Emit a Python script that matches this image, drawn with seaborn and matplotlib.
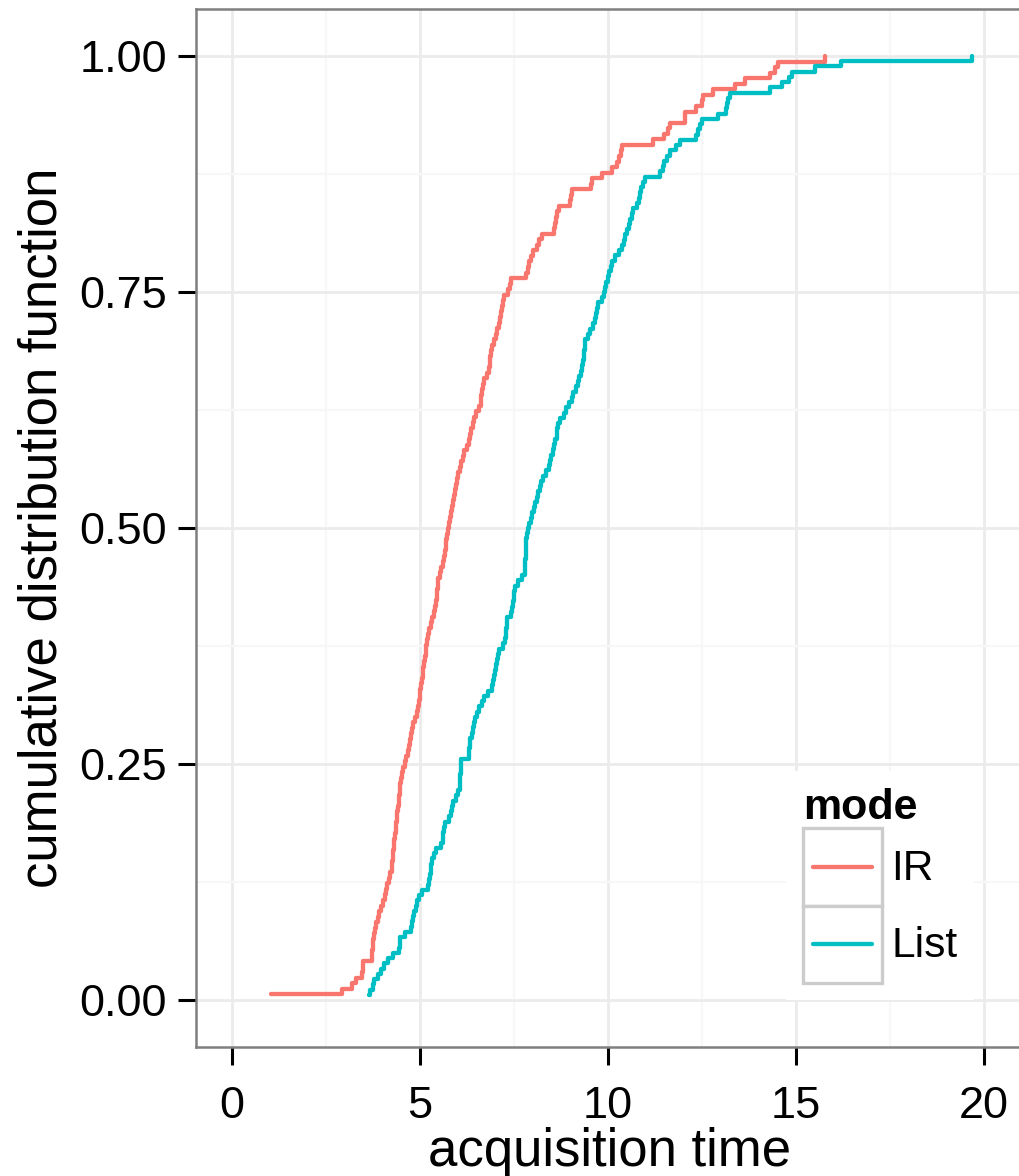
import numpy as np
import pandas as pd
import seaborn as sns
import matplotlib.pyplot as plt
from matplotlib.ticker import MultipleLocator
from matplotlib.legend_handler import HandlerBase
from matplotlib.patches import Rectangle
from matplotlib.lines import Line2D

# acquisition times
ir_times = [
    1.03, 2.93, 3.20, 3.30, 3.45, 3.49, 3.49, 3.72, 3.73, 3.74,
    3.75, 3.78, 3.81, 3.84, 3.87, 3.92, 3.97, 4.02, 4.07, 4.10,
    4.13, 4.17, 4.21, 4.25, 4.26, 4.28, 4.29, 4.31, 4.32, 4.34,
    4.35, 4.37, 4.38, 4.40, 4.41, 4.43, 4.44, 4.46, 4.47, 4.50,
    4.53, 4.55, 4.59, 4.63, 4.67, 4.71, 4.73, 4.76, 4.79, 4.82,
    4.86, 4.91, 4.95, 4.97, 4.99, 5.01, 5.03, 5.05, 5.07, 5.09,
    5.11, 5.12, 5.15, 5.17, 5.19, 5.21, 5.25, 5.28, 5.31, 5.36,
    5.40, 5.42, 5.44, 5.45, 5.47, 5.49, 5.53, 5.57, 5.61, 5.64,
    5.66, 5.68, 5.70, 5.72, 5.75, 5.77, 5.80, 5.83, 5.86, 5.89,
    5.91, 5.93, 5.96, 5.98, 6.01, 6.05, 6.09, 6.13, 6.17, 6.25,
    6.30, 6.33, 6.36, 6.40, 6.44, 6.50, 6.56, 6.61, 6.63, 6.65,
    6.67, 6.71, 6.79, 6.83, 6.85, 6.87, 6.89, 6.92, 6.97, 7.01,
    7.05, 7.09, 7.13, 7.15, 7.18, 7.20, 7.24, 7.35, 7.39, 7.43,
    7.83, 7.86, 7.90, 7.95, 8.00, 8.10, 8.16, 8.24, 8.57, 8.59,
    8.62, 8.65, 8.70, 8.99, 9.02, 9.03, 9.55, 9.57, 9.83, 10.10,
    10.23, 10.30, 10.34, 10.36, 11.20, 11.50, 11.60, 11.65, 12.05, 12.05,
    12.35, 12.50, 12.53, 12.80, 13.38, 13.64, 14.30, 14.45, 14.53, 15.77,
]
list_times = [
    3.63, 3.68, 3.74, 3.78, 3.87, 3.97, 4.05, 4.15, 4.29, 4.45,
    4.47, 4.48, 4.60, 4.75, 4.78, 4.81, 4.84, 4.88, 4.91, 4.98,
    5.05, 5.20, 5.24, 5.26, 5.28, 5.30, 5.33, 5.37, 5.43, 5.55,
    5.60, 5.62, 5.64, 5.66, 5.78, 5.82, 5.85, 5.88, 5.95, 6.02,
    6.05, 6.06, 6.07, 6.08, 6.09, 6.10, 6.29, 6.31, 6.32, 6.33,
    6.37, 6.41, 6.44, 6.47, 6.51, 6.56, 6.66, 6.71, 6.82, 6.92,
    6.95, 6.97, 6.99, 7.01, 7.04, 7.07, 7.10, 7.21, 7.27, 7.28,
    7.29, 7.30, 7.31, 7.42, 7.45, 7.47, 7.49, 7.51, 7.53, 7.60,
    7.70, 7.79, 7.80, 7.80, 7.81, 7.82, 7.82, 7.83, 7.85, 7.88,
    7.91, 7.94, 7.98, 8.03, 8.07, 8.11, 8.15, 8.19, 8.23, 8.28,
    8.35, 8.42, 8.46, 8.49, 8.53, 8.57, 8.60, 8.63, 8.65, 8.67,
    8.72, 8.82, 8.89, 8.96, 9.03, 9.08, 9.14, 9.19, 9.23, 9.27,
    9.31, 9.33, 9.35, 9.36, 9.38, 9.40, 9.46, 9.53, 9.60, 9.66,
    9.69, 9.71, 9.73, 9.85, 9.89, 9.92, 9.95, 9.99, 10.03, 10.07,
    10.11, 10.18, 10.28, 10.38, 10.42, 10.46, 10.50, 10.55, 10.59, 10.63,
    10.67, 10.76, 10.82, 10.85, 10.88, 10.92, 10.98, 11.38, 11.45, 11.48,
    11.56, 11.66, 11.80, 11.91, 12.34, 12.40, 12.45, 12.50, 12.91, 13.13,
    13.15, 13.20, 13.24, 14.31, 14.62, 14.80, 14.89, 15.50, 16.20, 19.68,
]
modes = ["IR", "List"]
colors = ["#F8766D", "#00BFC4"]
x_ticks = [0, 5, 10, 15, 20]
y_ticks = [0.0, 0.25, 0.5, 0.75, 1.0]
y_labels = ["0.00", "0.25", "0.50", "0.75", "1.00"]

frames = []
for m, t in zip(modes, [ir_times, list_times]):
    d = pd.DataFrame({"time": np.sort(t), "mode": m})
    d["cdf"] = np.arange(1, len(d) + 1) / len(d)
    frames.append(d)
df = pd.concat(frames, ignore_index=True)

sns.set_style("white")
plt.rcParams["font.family"] = ["Liberation Sans", "DejaVu Sans"]
plt.rcParams["text.color"] = "black"
plt.rcParams["axes.labelcolor"] = "black"

fig = plt.figure(figsize=(10.19, 11.76), dpi=100)
ax = fig.add_axes([196 / 1019, 129 / 1176, 828 / 1019, 1038 / 1176])

sns.lineplot(data=df, x="time", y="cdf", hue="mode", hue_order=modes,
             palette=colors, estimator=None, sort=False,
             drawstyle="steps-post", lw=3.1, legend=False, ax=ax)

ax.set_xlim(-0.957, 21.06)
ax.set_ylim(-0.0498, 1.0498)
ax.set_xticks(x_ticks)
ax.set_yticks(y_ticks)
ax.set_yticklabels(y_labels)
ax.xaxis.set_minor_locator(MultipleLocator(2.5))
ax.yaxis.set_minor_locator(MultipleLocator(0.125))
ax.set_axisbelow(True)
ax.grid(which="major", color="#EBEBEB", lw=2.0)
ax.grid(which="minor", color="#F7F7F7", lw=1.6)
ax.tick_params(which="major", direction="out", length=13, width=2.2,
               color="black", labelsize=32.5, labelcolor="black", pad=8,
               left=True, bottom=True)
ax.tick_params(axis="x", which="major", pad=15)
ax.tick_params(which="minor", length=0)
for s in ax.spines.values():
    s.set_color("#7F7F7F")
    s.set_linewidth(1.8)

ax.set_xlabel("acquisition time", fontsize=38, labelpad=0)
ax.set_ylabel("cumulative distribution function", fontsize=38, labelpad=8)


class BoxedLine(HandlerBase):
    def create_artists(self, legend, orig_handle, xdescent, ydescent,
                       width, height, fontsize, trans):
        box = Rectangle((-xdescent, -ydescent), width, height,
                        facecolor="white", edgecolor="#CCCCCC", lw=2.4,
                        transform=trans)
        inset = 0.12 * width
        yc = -ydescent + height / 2
        line = Line2D([-xdescent + inset, -xdescent + width - inset], [yc, yc],
                      color=orig_handle.get_color(), lw=orig_handle.get_linewidth(),
                      transform=trans)
        return [box, line]


handles = ax.get_lines()[:2]
leg = ax.legend(handles, modes, title="mode", loc="lower right",
                bbox_to_anchor=(0.940, 0.045), borderaxespad=0,
                fontsize=30.5, title_fontsize=31, frameon=True,
                facecolor="white", edgecolor="none", framealpha=1,
                fancybox=False, handlelength=1.86, handleheight=2.45,
                labelspacing=0, handletextpad=0.22, borderpad=0.4,
                alignment="left", handler_map={Line2D: BoxedLine()})
leg.get_title().set_fontweight("bold")

fig.savefig("out.png", dpi=100)
